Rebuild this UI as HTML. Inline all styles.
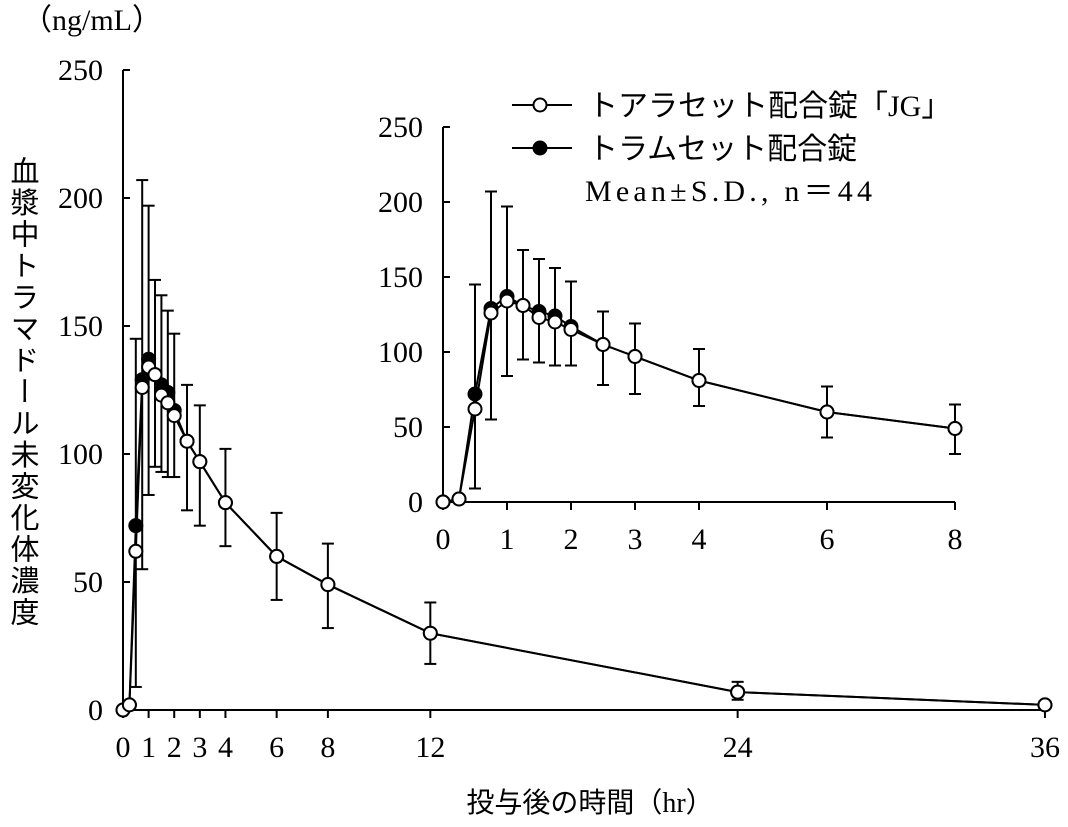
<!DOCTYPE html>
<html><head><meta charset="utf-8"><style>
body{margin:0;background:#fff}
svg text{font-family:"Liberation Serif","Noto Sans CJK JP",serif;fill:#000}
</style></head><body>
<svg id="s" width="1068" height="822" xmlns="http://www.w3.org/2000/svg">
<text x="22" y="30" font-size="30">（ng/mL）</text>
<text x="590" y="812" font-size="28" text-anchor="middle">投与後の時間（hr）</text>
<text x="22" y="156" font-size="29" style="writing-mode:vertical-rl" letter-spacing="2.5">血漿中トラマドール未変化体濃度</text>
</svg>
<script>
const s=document.getElementById('s');const NS='http://www.w3.org/2000/svg';
function el(t,a,txt){const e=document.createElementNS(NS,t);for(const k in a)e.setAttribute(k,a[k]);if(txt!=null)e.textContent=txt;s.appendChild(e);return e;}
const T=[0,0.25,0.5,0.75,1,1.25,1.5,1.75,2,2.5,3,4,6,8,12,24,36];
const JG=[0,2,62,126,134,131,123,120,115,105,97,81,60,49,30,7,2];
const TR=[0,2,72,129,137,131,127,124,117,105,97,81,60,49,30,7,2];
const HI=[0,0,145,207,197,168,162,156,147,127,119,102,77,65,42,11,0];
const LO=[0,0,9,55,84,95,93,91,91,78,72,64,43,32,18,4,0];
function chart(x0,y0,xs,ys,tmax,xt,r,cap){
 el('line',{x1:x0,y1:y0-250*ys,x2:x0,y2:y0,stroke:'#000','stroke-width':2});
 el('line',{x1:x0,y1:y0,x2:x0+tmax*xs,y2:y0,stroke:'#000','stroke-width':2});
 for(let v=0;v<=250;v+=50){const y=y0-v*ys;el('line',{x1:x0,y1:y,x2:x0+7,y2:y,stroke:'#000','stroke-width':2});
  el('text',{x:x0-20,y:y+10,'font-size':30,'text-anchor':'end'},v);}
 for(const t of xt){const x=x0+t*xs;el('line',{x1:x,y1:y0,x2:x,y2:y0+8,stroke:'#000','stroke-width':2});
  el('text',{x:x,y:y0+47,'font-size':30,'text-anchor':'middle'},t);}
 for(let i=0;i<T.length;i++){if(T[i]>tmax||HI[i]==0)continue;const x=x0+T[i]*xs;
  const a=y0-HI[i]*ys,b=y0-LO[i]*ys;el('line',{x1:x,y1:a,x2:x,y2:b,stroke:'#000','stroke-width':2});
  el('line',{x1:x-cap,y1:a,x2:x+cap,y2:a,stroke:'#000','stroke-width':2});
  el('line',{x1:x-cap,y1:b,x2:x+cap,y2:b,stroke:'#000','stroke-width':2});}
 for(const [D,f] of [[TR,'#000'],[JG,'#fff']]){let p='';
  for(let i=0;i<T.length;i++){if(T[i]>tmax)continue;p+=(p?'L':'M')+(x0+T[i]*xs)+','+(y0-D[i]*ys);}
  el('path',{d:p,fill:'none',stroke:'#000','stroke-width':2});
  for(let i=0;i<T.length;i++){if(T[i]>tmax)continue;el('circle',{cx:x0+T[i]*xs,cy:y0-D[i]*ys,r:r,fill:f,stroke:'#000','stroke-width':2});}}
}
chart(123,710,25.61,2.56,36,[0,1,2,3,4,6,8,12,24,36],6.5,6);
chart(443,502,64,1.5,8,[0,1,2,3,4,6,8],6.5,6);
el('line',{x1:512,y1:105,x2:572,y2:105,stroke:'#000','stroke-width':2});
el('circle',{cx:540,cy:105,r:6.5,fill:'#fff',stroke:'#000','stroke-width':2});
el('text',{x:588,y:116,'font-size':30},'トアラセット配合錠「JG」');
el('line',{x1:512,y1:148,x2:572,y2:148,stroke:'#000','stroke-width':2});
el('circle',{cx:540,cy:148,r:6.5,fill:'#000',stroke:'#000','stroke-width':2});
el('text',{x:588,y:159,'font-size':30},'トラムセット配合錠');
el('text',{x:585,y:201,'font-size':30,textLength:287,lengthAdjust:'spacing'},'Mean±S.D., n＝44');
</script>
</body></html>
